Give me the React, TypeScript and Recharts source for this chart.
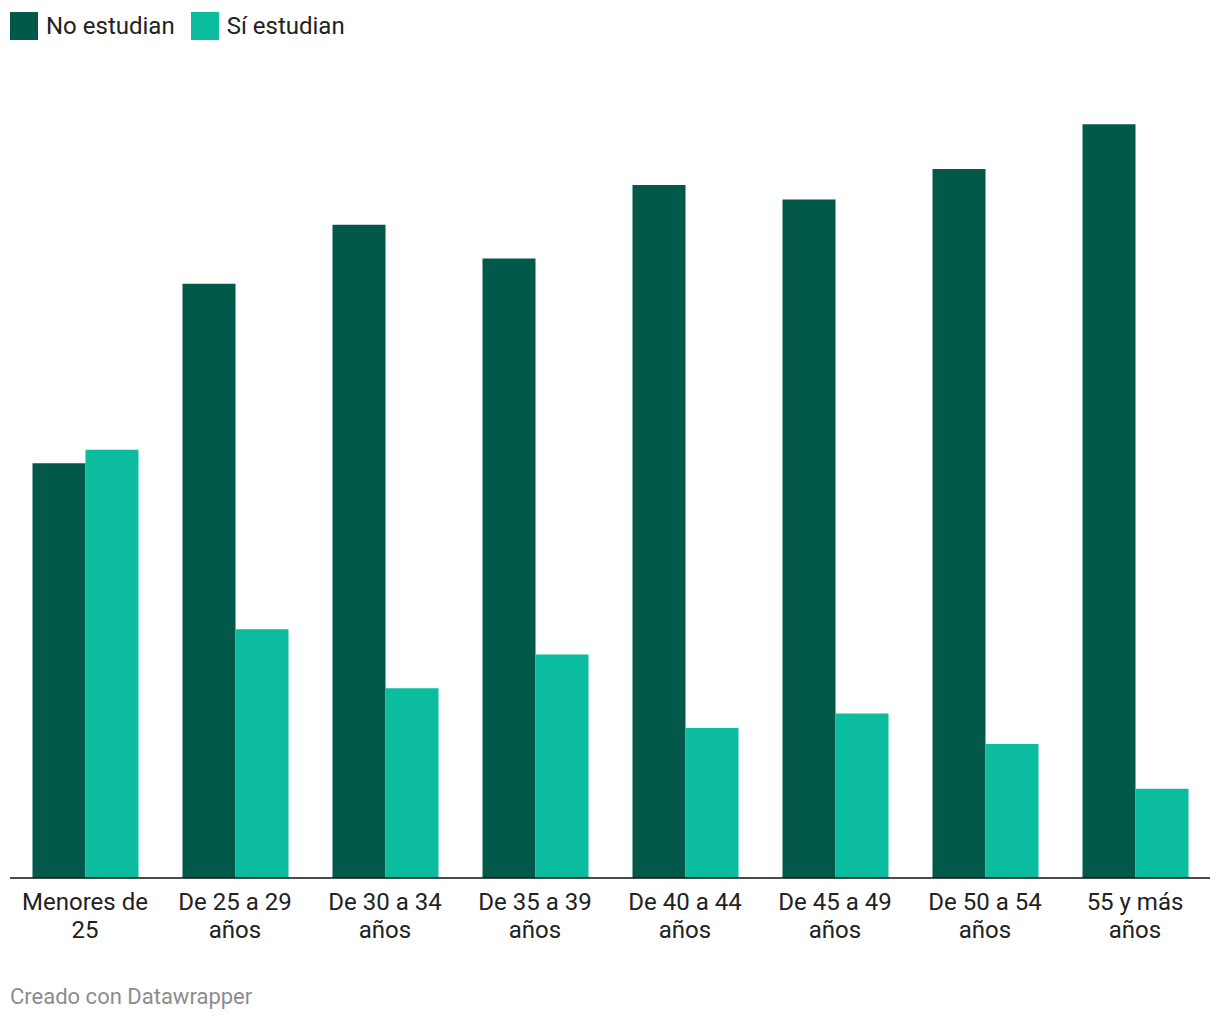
import { BarChart, Bar, XAxis, YAxis } from "recharts";

const categories = [
  "Menores de\n25",
  "De 25 a 29\naños",
  "De 30 a 34\naños",
  "De 35 a 39\naños",
  "De 40 a 44\naños",
  "De 45 a 49\naños",
  "De 50 a 54\naños",
  "55 y más\naños",
];
const noEstudian = [49.2, 70.5, 77.5, 73.5, 82.2, 80.5, 84.1, 89.4];
const siEstudian = [50.8, 29.5, 22.5, 26.5, 17.8, 19.5, 15.9, 10.6];

const DARK = "#02594a";
const TEAL = "#0bbc9f";
const FONT = "Roboto, 'Noto Sans', sans-serif";

const data = categories.map((name, i) => ({
  name,
  no: noEstudian[i],
  si: siEstudian[i],
}));

function TwoLineTick(props: any) {
  const { x, y, payload } = props;
  const lines = String(payload.value).split("\n");
  return (
    <text x={x} y={y} textAnchor="middle" fill="#222" fontSize={24} fontFamily={FONT}>
      {lines.map((line, i) => (
        <tspan key={i} x={x} dy={i === 0 ? 24 : 28}>
          {line}
        </tspan>
      ))}
    </text>
  );
}

function LegendItem({ color, label }: { color: string; label: string }) {
  return (
    <div style={{ display: "flex", alignItems: "center", marginRight: 16 }}>
      <div style={{ width: 28, height: 28, background: color, marginRight: 8 }} />
      <span style={{ fontSize: 24, color: "#222", fontFamily: FONT }}>{label}</span>
    </div>
  );
}

export default function App() {
  return (
    <div style={{ position: "absolute", left: 0, top: 0, width: 1220, height: 1020, background: "#fff" }}>
      <div style={{ position: "absolute", left: 10, top: 12, display: "flex" }}>
        <LegendItem color={DARK} label="No estudian" />
        <LegendItem color={TEAL} label="Sí estudian" />
      </div>

      <BarChart
        width={1220}
        height={948}
        data={data}
        margin={{ top: 35, right: 10, bottom: 0, left: 10 }}
        barCategoryGap="15%"
        barGap={0}
      >
        <YAxis hide domain={[0, 100]} />
        <XAxis
          dataKey="name"
          height={70}
          tickLine={false}
          axisLine={{ stroke: "#111", strokeWidth: 1.5 }}
          tick={<TwoLineTick />}
          interval={0}
        />
        <Bar dataKey="no" fill={DARK} isAnimationActive={false} />
        <Bar dataKey="si" fill={TEAL} isAnimationActive={false} />
      </BarChart>

      <div
        style={{
          position: "absolute",
          left: 10,
          top: 984,
          fontSize: 22,
          color: "#8c8c8c",
          fontFamily: FONT,
        }}
      >
        Creado con Datawrapper
      </div>
    </div>
  );
}
